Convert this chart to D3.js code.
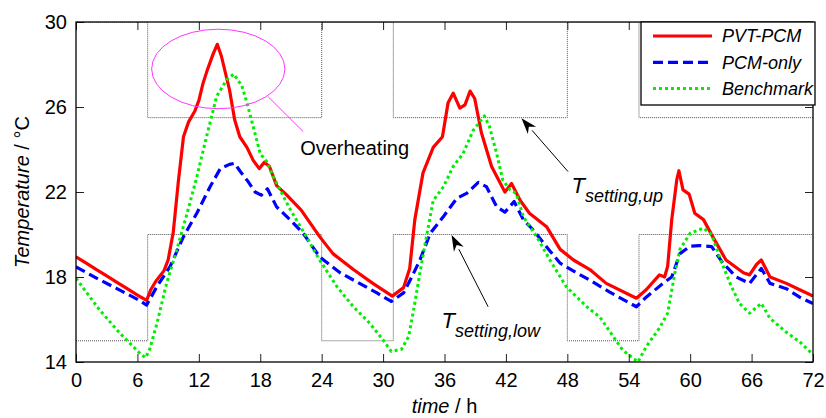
<!DOCTYPE html>
<html>
<head>
<meta charset="utf-8">
<script src="https://cdn.jsdelivr.net/npm/d3@7"></script>
<style>
  body { margin: 0; background: #fff; }
  svg { font-family: "Liberation Sans", Arial, sans-serif; }
</style>
</head>
<body>
<div id="chart"></div>
<script>
// series readings (hours, degC)
const pvtTime = [0, 1, 2, 3, 4, 5, 6, 6.9, 7.3, 7.8, 8.6, 9.0, 9.5, 10.0, 10.5, 11.0, 11.6, 12.0, 12.4, 12.8, 13.4, 13.8, 14.2, 15.0, 15.5, 16.0, 16.7, 17.3, 17.9, 18.4, 18.9, 19.6, 20.5, 22.0, 23.8, 25.1, 27.1, 29.0, 30.9, 32.0, 32.6, 33.1, 33.9, 34.9, 35.8, 36.35, 36.85, 37.5, 38.0, 38.5, 38.95, 39.6, 40.6, 41.9, 42.55, 43.4, 44.3, 46.0, 47.3, 48.6, 50.2, 51.8, 54.75, 55.7, 57.0, 57.5, 57.8, 58.2, 58.7, 58.9, 59.3, 59.9, 60.45, 61.3, 62.2, 63.5, 65.2, 65.8, 66.5, 66.95, 67.8, 69.4, 70.7, 72];
const pvtTemp = [18.95, 18.65, 18.35, 18.05, 17.75, 17.45, 17.15, 16.9, 17.4, 17.8, 18.3, 18.8, 20.1, 22.5, 24.6, 25.3, 25.8, 26.3, 27.1, 27.7, 28.5, 28.95, 28.4, 26.8, 25.4, 24.6, 24.1, 23.5, 23.1, 23.4, 23.2, 22.3, 21.9, 21.15, 19.9, 19.1, 18.35, 17.7, 17.1, 17.5, 18.4, 20.7, 22.9, 24.1, 24.6, 26.2, 26.65, 25.95, 26.1, 26.75, 26.4, 24.8, 23.2, 22.0, 22.4, 21.6, 21.0, 20.35, 19.3, 18.8, 18.35, 17.7, 17.0, 17.4, 18.1, 18.0, 18.5, 20.7, 22.6, 23.0, 22.1, 21.9, 21.0, 20.7, 19.9, 18.8, 18.2, 18.1, 18.6, 18.8, 18.0, 17.7, 17.4, 17.1];

const pcmTime = [0, 2, 4, 6, 6.9, 7.9, 9.2, 10.5, 11.8, 13.1, 14.1, 15.0, 15.5, 16.0, 16.8, 17.5, 18.1, 18.7, 19.6, 20.9, 22.2, 23.8, 25.8, 27.7, 29.4, 30.8, 32.0, 32.8, 33.6, 34.6, 35.9, 37.2, 38.2, 39.3, 40.1, 41.1, 41.9, 42.8, 43.7, 44.7, 46.0, 47.3, 48.9, 50.2, 52.1, 54.75, 55.7, 57.35, 58.2, 59.0, 60.0, 60.9, 62.1, 63.2, 64.5, 65.8, 66.95, 67.8, 69.4, 70.7, 72];
const pcmTemp = [18.48, 17.95, 17.45, 16.95, 16.68, 17.55, 18.5, 19.9, 21.0, 22.25, 23.1, 23.3, 23.35, 23.0, 22.5, 22.0, 21.85, 22.15, 21.3, 20.7, 20.05, 18.95, 18.2, 17.7, 17.25, 16.85, 17.25, 18.0, 18.8, 20.05, 20.85, 21.7, 21.95, 22.45, 22.25, 21.3, 21.05, 21.55, 20.7, 20.2, 19.4, 18.65, 18.2, 17.85, 17.3, 16.6, 17.05, 17.7, 18.0, 19.1, 19.45, 19.48, 19.43, 18.65, 18.0, 17.7, 18.4, 17.7, 17.45, 17.05, 16.75];

const benchTime = [0, 2.3, 4.3, 6.25, 6.8, 7.2, 7.9, 8.85, 9.8, 10.8, 11.8, 12.75, 13.74, 14.7, 15.4, 16.2, 16.7, 17.3, 18.0, 18.6, 19.3, 20.9, 22.5, 23.8, 25.5, 27.1, 28.7, 30.0, 30.8, 31.8, 32.5, 33.0, 33.6, 34.2, 34.9, 35.9, 36.85, 37.8, 38.8, 39.9, 40.4, 41.1, 41.7, 42.4, 43.0, 43.7, 45.0, 46.3, 47.9, 49.9, 51.2, 53.4, 54.9, 55.7, 57.0, 57.8, 58.5, 59.0, 60.0, 61.3, 62.1, 62.9, 63.9, 64.8, 65.8, 66.95, 67.8, 69.4, 70.7, 72];
const benchTemp = [17.94, 16.45, 15.35, 14.4, 14.2, 14.6, 15.8, 17.7, 19.2, 20.9, 22.7, 24.6, 26.5, 27.27, 27.55, 27.0, 26.2, 25.1, 23.8, 23.45, 22.7, 21.2, 19.9, 18.8, 17.54, 16.6, 15.82, 15.04, 14.5, 14.6, 15.2, 16.5, 18.2, 19.8, 21.6, 22.25, 23.2, 23.8, 24.9, 25.58, 25.07, 23.8, 22.56, 22.1, 21.94, 20.84, 19.9, 18.8, 17.54, 16.6, 16.1, 14.56, 14.0, 14.72, 15.6, 16.3, 18.17, 19.3, 20.06, 20.3, 20.0, 18.9, 17.7, 16.76, 16.3, 16.76, 16.05, 15.4, 14.95, 14.35];

// set-point schedule (step after)
const settingTime = [0, 7, 24, 31, 48, 55, 72];
const settingLow = [15, 20, 15, 20, 15, 20, 20];
const settingUp = [30, 25.5, 30, 25.5, 30, 25.5, 25.5];

const seriesNames = ["PVT-PCM", "PCM-only", "Benchmark"];
const xTicks = [0, 6, 12, 18, 24, 30, 36, 42, 48, 54, 60, 66, 72];
const yTicks = [14, 18, 22, 26, 30];

const width = 826, height = 418;
const margin = {top: 22, right: 13, bottom: 56, left: 76};
const iw = width - margin.left - margin.right;
const ih = height - margin.top - margin.bottom;

const svg = d3.select("#chart").append("svg")
    .attr("width", width)
    .attr("height", height);

const x = d3.scaleLinear().domain([0, 72]).range([0, iw]);
const y = d3.scaleLinear().domain([14, 30]).range([ih, 0]);

const g = svg.append("g").attr("transform", `translate(${margin.left},${margin.top})`);

g.append("clipPath").attr("id", "clip")
  .append("rect").attr("width", iw).attr("height", ih);

const plot = g.append("g").attr("clip-path", "url(#clip)");

// set-point lines
const stepLine = d3.line().curve(d3.curveStepAfter).x(d => x(d[0])).y(d => y(d[1]));
[settingLow, settingUp].forEach(vals => {
    plot.append("path")
        .attr("d", stepLine(settingTime.map((t, i) => [t, vals[i]])))
        .attr("fill", "none")
        .attr("stroke", "#555")
        .attr("stroke-width", 1)
        .attr("stroke-dasharray", "1,1");
});

const styles = [
    {color: "#ff0000", dash: null, w: 3.2},
    {color: "#0000ff", dash: "10,5", w: 3.2},
    {color: "#00ee00", dash: "3,3", w: 3}
];
const series = [
    pvtTime.map((t, i) => [t, pvtTemp[i]]),
    pcmTime.map((t, i) => [t, pcmTemp[i]]),
    benchTime.map((t, i) => [t, benchTemp[i]])
];

const line = d3.line().x(d => x(d[0])).y(d => y(d[1]));
series.forEach((s, i) => {
    plot.append("path")
        .attr("d", line(s))
        .attr("fill", "none")
        .attr("stroke", styles[i].color)
        .attr("stroke-width", styles[i].w)
        .attr("stroke-dasharray", styles[i].dash)
        .attr("stroke-linejoin", "round");
});

// axes, ticks pointing inward
const tickLen = 8;
const fontSize = 20;
const axBottom = g.append("g").attr("transform", `translate(0,${ih})`)
    .call(d3.axisBottom(x).tickValues(xTicks).tickSizeInner(-tickLen).tickSizeOuter(0).tickPadding(11));
const axLeft = g.append("g")
    .call(d3.axisLeft(y).tickValues(yTicks).tickSizeInner(-tickLen).tickSizeOuter(0).tickPadding(9));
const axTop = g.append("g")
    .call(d3.axisTop(x).tickValues(xTicks).tickSizeInner(-tickLen).tickSizeOuter(0).tickFormat(""));
const axRight = g.append("g").attr("transform", `translate(${iw},0)`)
    .call(d3.axisRight(y).tickValues(yTicks).tickSizeInner(-tickLen).tickSizeOuter(0).tickFormat(""));
[axBottom, axLeft, axTop, axRight].forEach(a => {
    a.select(".domain").remove();
    a.selectAll("line").attr("stroke", "#222");
    a.selectAll("text").attr("font-size", fontSize).attr("fill", "#000")
        .attr("font-family", "Liberation Sans, Arial, sans-serif");
});

g.append("rect")
    .attr("width", iw).attr("height", ih)
    .attr("fill", "none").attr("stroke", "#000").attr("stroke-width", 1.3);

// axis titles
const yTitle = svg.append("text")
    .attr("transform", `translate(29,${margin.top + ih / 2}) rotate(-90)`)
    .attr("text-anchor", "middle")
    .attr("font-size", fontSize);
yTitle.append("tspan").attr("font-style", "italic").text("Temperature");
yTitle.append("tspan").text(" / °C");

const xTitle = svg.append("text")
    .attr("x", margin.left + iw / 2).attr("y", 413)
    .attr("text-anchor", "middle")
    .attr("font-size", fontSize);
xTitle.append("tspan").attr("font-style", "italic").text("time");
xTitle.append("tspan").text(" / h");

// overheating annotation
g.append("ellipse")
    .attr("cx", x(13.9)).attr("cy", y(27.79))
    .attr("rx", x(6.51) - x(0)).attr("ry", y(28) - y(29.87))
    .attr("fill", "none").attr("stroke", "#ff33ff").attr("stroke-width", 1);
g.append("line")
    .attr("x1", x(18.78)).attr("y1", y(26.48))
    .attr("x2", x(22.2)).attr("y2", y(24.84))
    .attr("stroke", "#ff33ff").attr("stroke-width", 1);
g.append("text")
    .attr("x", x(21.9)).attr("y", y(23.74))
    .attr("font-size", fontSize)
    .text("Overheating");

// arrows for set points
function arrow(t0, v0, t1, v1) {
    const x0 = x(t0), y0 = y(v0), x1 = x(t1), y1 = y(v1);
    const ang = Math.atan2(y1 - y0, x1 - x0);
    const len = 16, half = 5.5;
    const bx = x1 - len * Math.cos(ang), by = y1 - len * Math.sin(ang);
    g.append("line")
        .attr("x1", x0).attr("y1", y0).attr("x2", bx).attr("y2", by)
        .attr("stroke", "#000").attr("stroke-width", 1);
    const pts = [
        [x1, y1],
        [bx + half * Math.sin(ang), by - half * Math.cos(ang)],
        [x1 - 0.7 * len * Math.cos(ang), y1 - 0.7 * len * Math.sin(ang)],
        [bx - half * Math.sin(ang), by + half * Math.cos(ang)]
    ];
    g.append("polygon").attr("points", pts.map(p => p.join(",")).join(" ")).attr("fill", "#000");
}
arrow(48.07, 22.96, 43.52, 25.47);
arrow(40.26, 16.6, 36.69, 19.98);

function settingLabel(t, v, sub) {
    const txt = g.append("text").attr("x", x(t)).attr("y", y(v)).attr("font-style", "italic");
    txt.append("tspan").attr("font-size", 22).text("T");
    txt.append("tspan").attr("font-size", 18).attr("dy", 9).text(sub);
}
settingLabel(48.4, 21.95, "setting,up");
settingLabel(35.7, 15.6, "setting,low");

// legend
const lg = svg.append("g").attr("transform", "translate(641,22)");
lg.append("rect").attr("width", 174).attr("height", 83)
    .attr("fill", "#fff").attr("stroke", "#000").attr("stroke-width", 1.3);
seriesNames.forEach((name, i) => {
    const yy = 14 + i * 26.3;
    lg.append("line")
        .attr("x1", 12).attr("x2", 71).attr("y1", yy).attr("y2", yy)
        .attr("stroke", styles[i].color).attr("stroke-width", styles[i].w)
        .attr("stroke-dasharray", styles[i].dash);
    lg.append("text")
        .attr("x", 81).attr("y", yy).attr("dy", "0.35em")
        .attr("font-size", 18).attr("font-style", "italic")
        .text(name);
});
</script>
</body>
</html>
